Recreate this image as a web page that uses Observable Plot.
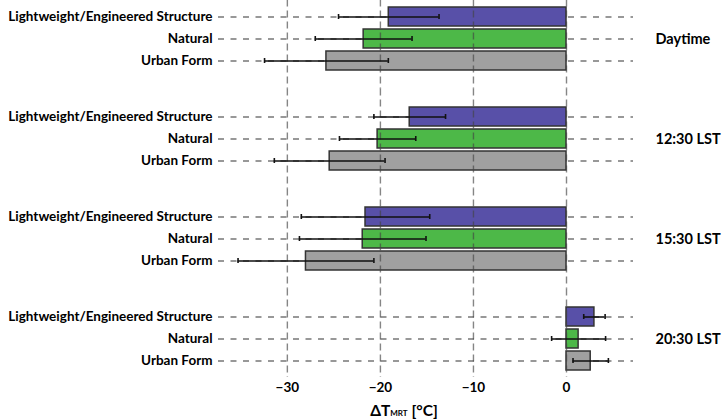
<!DOCTYPE html>
<html><head><meta charset="utf-8">
<script src="https://cdn.jsdelivr.net/npm/d3@7"></script>
<script src="https://cdn.jsdelivr.net/npm/@observablehq/plot@0.6"></script>
<style>body{margin:0;background:#fff}</style>
</head><body><div id="chart"></div>
<script>
const periods = ["Daytime", "12:30 LST", "15:30 LST", "20:30 LST"];
const types = ["Lightweight/Engineered Structure", "Natural", "Urban Form"];
const lightweightMean = [-19.1, -16.85, -21.6, 3.0];
const lightweightErr  = [5.4, 3.85, 6.9, 1.15];
const naturalMean = [-21.8, -20.3, -21.9, 1.3];
const naturalErr  = [5.2, 4.1, 6.8, 2.9];
const urbanMean = [-25.8, -25.45, -28.0, 2.6];
const urbanErr  = [6.65, 5.95, 7.3, 1.9];
const xTicks = [-30, -20, -10, 0];
const colors = ["#5850A8", "#4DB848", "#A0A0A0"];

const means = [lightweightMean, naturalMean, urbanMean];
const errs = [lightweightErr, naturalErr, urbanErr];
const data = [];
periods.forEach((p, i) => {
  types.forEach((t, j) => data.push({period: p, type: t, value: means[j][i], err: errs[j][i]}));
});
const gridData = periods.flatMap(p => xTicks.map(x => ({period: p, x})));
const lastPeriod = periods[periods.length - 1];
const gridStyle = {x: "x", fy: "period", stroke: "#444", strokeOpacity: 0.65, strokeWidth: 1.4, strokeDasharray: "7,4"};

const plot = Plot.plot({
  width: 726, height: 420,
  marginTop: 1, marginBottom: 44, marginLeft: 218, marginRight: 93,
  style: {fontFamily: "Lato, sans-serif", fontSize: "13px", fontWeight: "bold", color: "#000", background: "#fff"},
  x: {domain: [-37.4, 7.2]},
  y: {domain: types, padding: 0.13},
  fy: {domain: periods, paddingInner: 0.286, paddingOuter: 0},
  color: {domain: types, range: colors},
  marks: [
    Plot.ruleY(data, {y: "type", fy: "period", stroke: "#777", strokeWidth: 1.4, strokeDasharray: "6,6.5"}),
    Plot.barX(data, {x: "value", y: "type", fy: "period", fill: "type", stroke: "#333", strokeWidth: 1.5}),
    Plot.ruleX(gridData.filter(d => d.period !== lastPeriod), {...gridStyle, insetTop: -14.5, insetBottom: -14.5}),
    Plot.ruleX(gridData.filter(d => d.period === lastPeriod), {...gridStyle, insetTop: -14.5, insetBottom: -3}),
    Plot.ruleY(data, {y: "type", fy: "period", x1: d => d.value - d.err, x2: d => d.value + d.err, stroke: "#111", strokeWidth: 1.6}),
    Plot.tickX(data, {x: d => d.value - d.err, y: "type", fy: "period", stroke: "#111", strokeWidth: 1.6, insetTop: 7, insetBottom: 7}),
    Plot.tickX(data, {x: d => d.value + d.err, y: "type", fy: "period", stroke: "#111", strokeWidth: 1.6, insetTop: 7, insetBottom: 7}),
    Plot.axisY({tickSize: 0, tickPadding: 6, label: null, fontSize: 13.5}),
    Plot.axisX({ticks: xTicks, tickSize: 0, tickPadding: 8, label: null, fontSize: 13.5}),
    Plot.axisFy({anchor: "right", tickSize: 0, tickPadding: 22, label: null, fontSize: 14.5})
  ]
});
document.getElementById("chart").appendChild(plot);

const lbl = d3.select(plot).append("text")
  .attr("x", 404).attr("y", 415.5)
  .attr("text-anchor", "middle")
  .style("font-size", "15.5px").style("font-weight", "bold").attr("fill", "#000");
lbl.append("tspan").text("ΔT");
lbl.append("tspan").text("MRT").style("font-size", "8px");
lbl.append("tspan").text(" [°C]");
</script>
</body></html>
